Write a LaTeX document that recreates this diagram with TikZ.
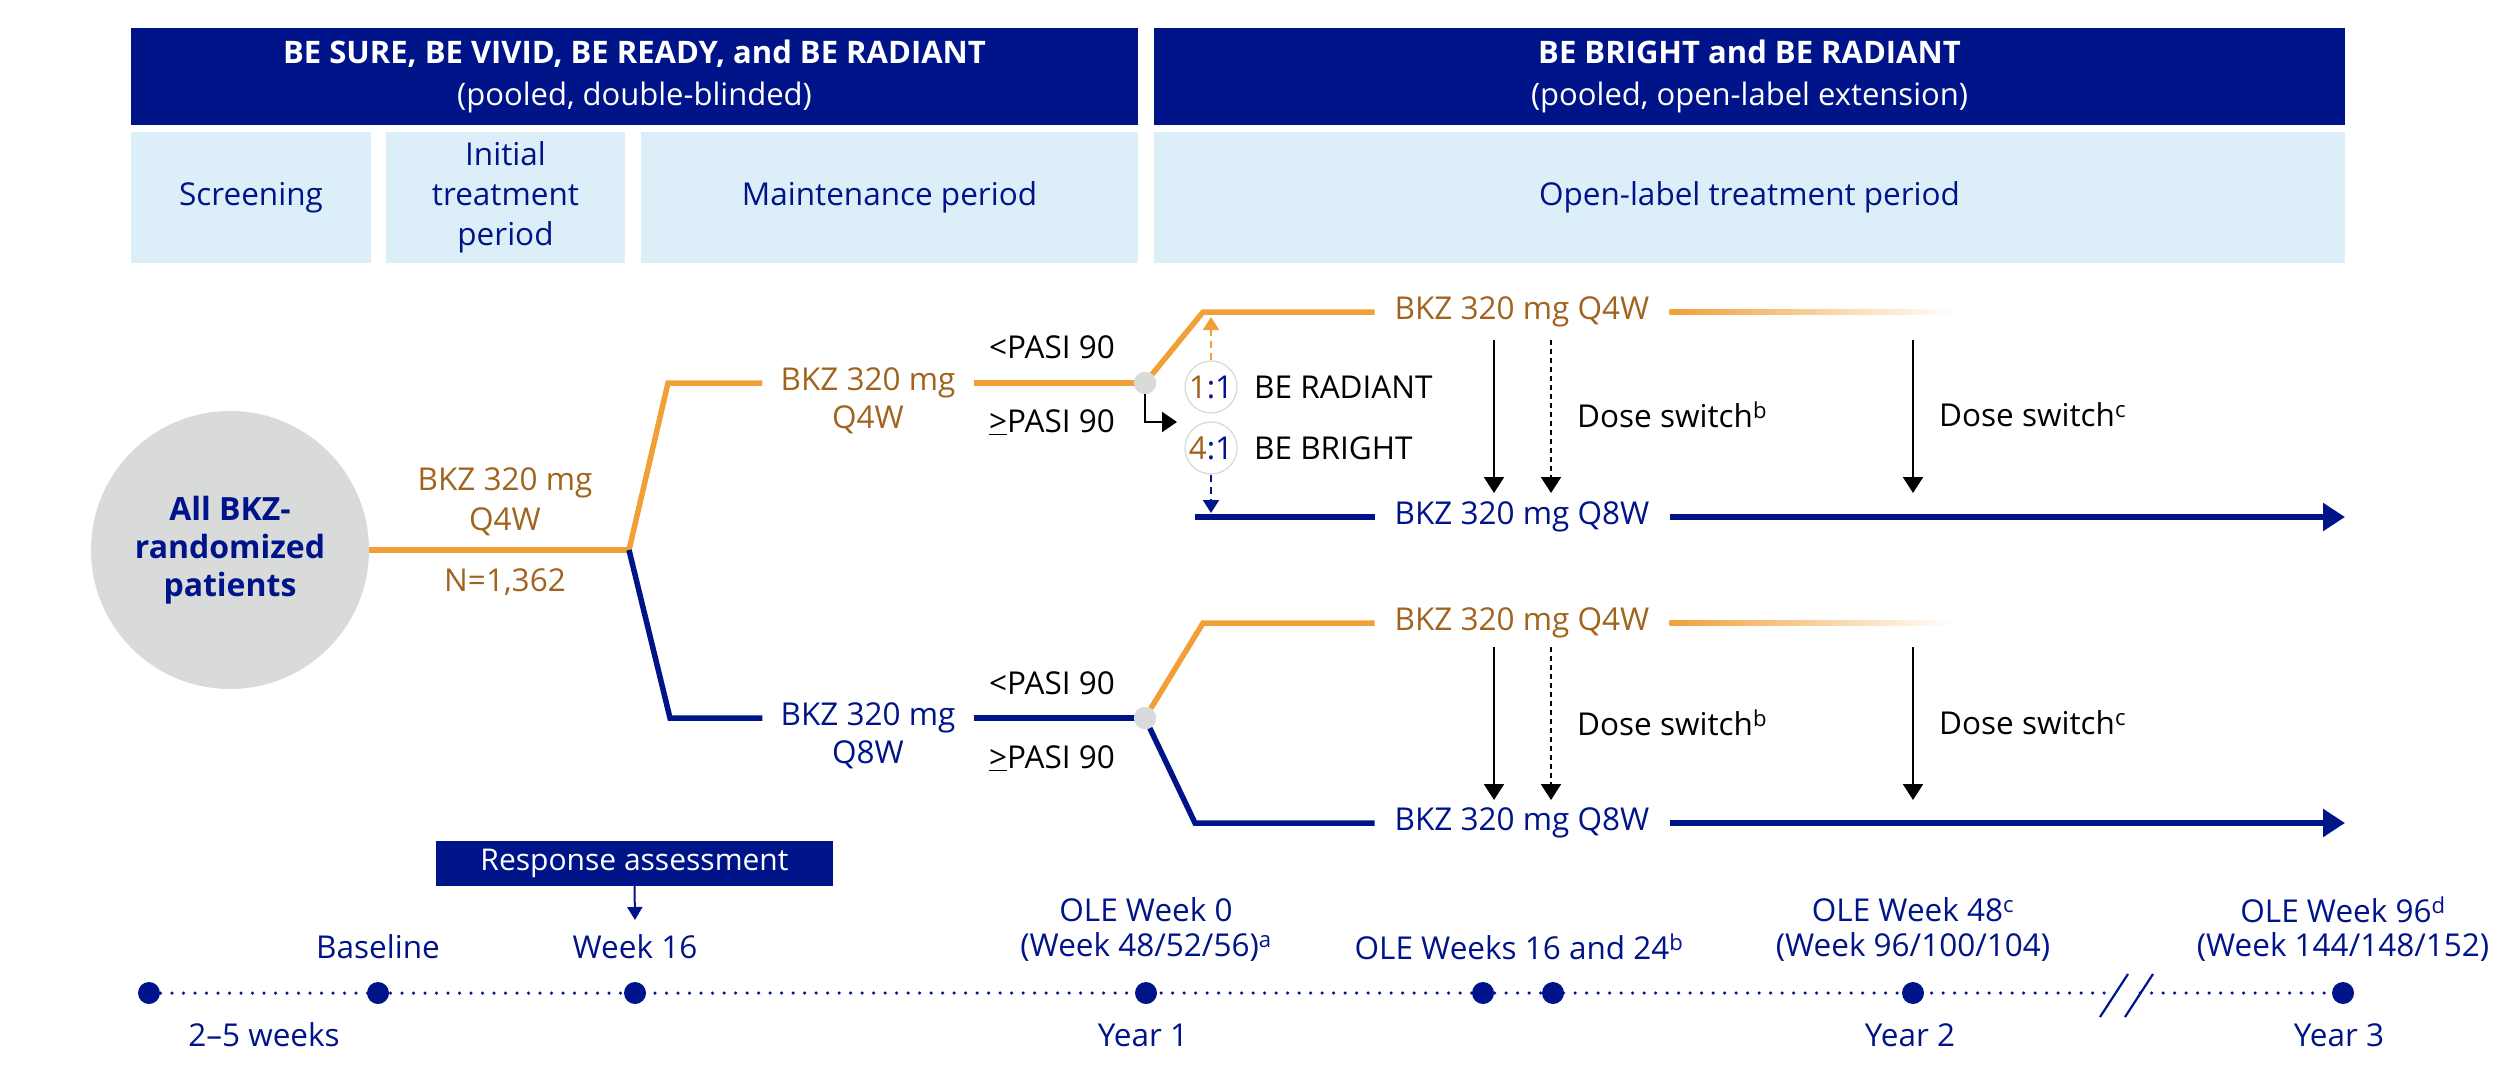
\documentclass[tikz,border=0pt]{standalone}
\usepackage{fontspec}
\setmainfont{Open Sans}
\usetikzlibrary{arrows.meta,calc}
\definecolor{navy}{RGB}{0,20,137}
\definecolor{orline}{RGB}{241,160,56}
\definecolor{ortext}{RGB}{160,100,30}
\definecolor{lblue}{RGB}{220,239,249}
\definecolor{cgray}{RGB}{217,218,218}
\newcommand\myfs{\fontsize{31.5}{40}\selectfont}
\newcommand\gepasi{\underline{>}PASI 90}
\begin{document}
\begin{tikzpicture}[x=1pt,y=-1pt,
  hdr/.style={fill=navy,text=white,inner sep=0pt,align=center,minimum height=97pt,font=\fontsize{31}{42}\selectfont},
  phase/.style={fill=lblue,text=navy,inner sep=0pt,align=center,minimum height=131pt,font=\myfs},
  oline/.style={orline,line width=5.5pt},
  nline/.style={navy,line width=5.5pt},
  bigtip/.style={-{Triangle[length=22pt,width=27pt]}},
  otxt/.style={text=ortext,font=\myfs,inner sep=0pt,inner xsep=18pt,align=center},
  ntxt/.style={text=navy,font=\myfs,inner sep=0pt,inner xsep=18pt,align=center},
  ktxt/.style={text=black,font=\myfs,inner sep=0pt,align=center},
  gdot/.style={circle,fill=cgray,inner sep=0pt,minimum size=22pt},
  tdot/.style={circle,fill=navy,inner sep=0pt,minimum size=22pt},
  ratio/.style={circle,draw=cgray,line width=1.3pt,fill=white,inner sep=0pt,minimum size=52pt,font=\myfs},
  sw/.style={black,line width=2.2pt,-{Triangle[length=16pt,width=20pt]}},
  tl/.style={navy,line width=3.5pt,line cap=round,dash pattern=on 0pt off 11.5pt},
]
\useasboundingbox (0,0) rectangle (2510,1083);

% headers
\node[hdr,minimum width=1007pt] (hL) at (634.5,76.5) {{\bfseries BE SURE, BE VIVID, BE READY, and BE RADIANT}\\(pooled, double-blinded)};
\node[hdr,minimum width=1191pt] (hR) at (1749.5,76.5) {{\bfseries BE BRIGHT and BE RADIANT}\\(pooled, open-label extension)};
\node[phase,minimum width=240pt] (pS) at (251,197.5) {Screening};
\node[phase,minimum width=239pt] (pI) at (505.5,197.5) {Initial\\treatment\\period};
\node[phase,minimum width=497pt] (pM) at (889.5,197.5) {Maintenance period};
\node[phase,minimum width=1191pt] (pO) at (1749.5,197.5) {Open-label treatment period};

% start
\node[circle,fill=cgray,minimum size=278pt,inner sep=0pt,text=navy,align=center,font=\fontsize{32}{38}\selectfont\bfseries] (all) at (230,550) {All BKZ-\\randomized\\patients};
\coordinate (b0) at (629,550);
\node[otxt] (l0a) at (505,483) {BKZ 320 mg};
\node[otxt] (l0b) at (505,522) {Q4W};
\node[otxt] (l0c) at (505,582) {N=1,362};
\draw[oline] (all.east) -- (b0);

% maintenance arms
\coordinate (c1) at (668,383);
\coordinate (c1n) at (670,718);
\node[otxt] (q4a) at (868,383) {BKZ 320 mg};
\node[otxt] (q4b) at (868,420) {Q4W};
\node[ntxt] (q8a) at (868,718) {BKZ 320 mg};
\node[ntxt] (q8b) at (868,755) {Q8W};
\node[gdot] (d1) at (1145,383) {};
\node[gdot] (d2) at (1145,718) {};
\draw[oline,line join=miter] (b0) -- (c1) -- (q4a.west);
\draw[oline] (q4a.east) -- (d1.center);
\draw[nline,line join=miter] (b0) -- (c1n) -- (q8a.west);
\draw[nline] (q8a.east) -- (d2.center);
\node[gdot] at (d1) {};
\node[gdot] at (d2) {};

\node[ktxt] (pa1) at (1052,347) {<PASI 90};
\node[ktxt] (pa2) at (1052,422) {\gepasi};
\node[ktxt] (pa3) at (1052,683) {<PASI 90};
\node[ktxt] (pa4) at (1052,758) {\gepasi};

% upper OLE group
\coordinate (c2) at (1203,312);
\coordinate (c3) at (1195,517);
\node[otxt,inner xsep=20pt] (t1) at (1522,312) {BKZ 320 mg Q4W};
\node[ntxt,inner xsep=20pt] (t2) at (1522,517) {BKZ 320 mg Q8W};
\coordinate (g1) at (1955,312);
\coordinate (e1) at (2345,517);
\draw[oline,line join=miter] (d1) -- (c2) -- (t1.west);
\draw[nline] (c3) -- (t2.west);
\shade[left color=orline,right color=white] ($(t1.east)+(0,-2.75)$) rectangle ($(g1)+(0,2.75)$);
\draw[nline,bigtip] (t2.east) -- (e1);
\node[gdot] at (d1) {};

\node[ratio] (r1) at (1211,387) {{\color{ortext}1}{\color{navy}:1}};
\node[ratio] (r2) at (1211,448) {{\color{ortext}4}{\color{navy}:1}};
\node[ktxt,anchor=west] (rl1) at (1254,387) {BE RADIANT};
\node[ktxt,anchor=west] (rl2) at (1254,448) {BE BRIGHT};
\coordinate (ra) at (1211,317);
\coordinate (rb) at (1211,513);
\draw[orline,line width=2.2pt,dash pattern=on 7pt off 5pt,-{Triangle[length=13pt,width=16pt]}] (r1.north) -- (ra);
\draw[navy,line width=2.2pt,dash pattern=on 7pt off 5pt,-{Triangle[length=13pt,width=16pt]}] (r2.south) -- (rb);
\coordinate (lk) at (1145,422);
\coordinate (lt) at (1177,422);
\draw[black,line width=2.2pt,-{Triangle[length=15pt,width=20pt]}] (d1.south) -- (lk) -- (lt);

\coordinate (s1a) at (1494,340); \coordinate (s1b) at (1494,493);
\coordinate (s2a) at (1551,340); \coordinate (s2b) at (1551,493);
\coordinate (s3a) at (1913,340); \coordinate (s3b) at (1913,493);
\draw[sw] (s1a) -- (s1b);
\draw[sw,dash pattern=on 5pt off 4pt] (s2a) -- (s2b);
\draw[sw] (s3a) -- (s3b);
\node[ktxt,anchor=west] (ds1) at (1577,415) {Dose switch\textsuperscript{b}};
\node[ktxt,anchor=west] (ds2) at (1939,415) {Dose switch\textsuperscript{c}};

% lower OLE group
\coordinate (c4) at (1203,623);
\coordinate (c5) at (1195,823);
\node[otxt,inner xsep=20pt] (t3) at (1522,623) {BKZ 320 mg Q4W};
\node[ntxt,inner xsep=20pt] (t4) at (1522,823) {BKZ 320 mg Q8W};
\coordinate (g2) at (1955,623);
\coordinate (e2) at (2345,823);
\draw[oline,line join=miter] (d2) -- (c4) -- (t3.west);
\draw[nline,line join=miter] (d2) -- (c5) -- (t4.west);
\shade[left color=orline,right color=white] ($(t3.east)+(0,-2.75)$) rectangle ($(g2)+(0,2.75)$);
\draw[nline,bigtip] (t4.east) -- (e2);
\node[gdot] at (d2) {};

\coordinate (s4a) at (1494,647); \coordinate (s4b) at (1494,800);
\coordinate (s5a) at (1551,647); \coordinate (s5b) at (1551,800);
\coordinate (s6a) at (1913,647); \coordinate (s6b) at (1913,800);
\draw[sw] (s4a) -- (s4b);
\draw[sw,dash pattern=on 5pt off 4pt] (s5a) -- (s5b);
\draw[sw] (s6a) -- (s6b);
\node[ktxt,anchor=west] (ds3) at (1577,723) {Dose switch\textsuperscript{b}};
\node[ktxt,anchor=west] (ds4) at (1939,723) {Dose switch\textsuperscript{c}};

% timeline
\coordinate (k0) at (149,993);
\coordinate (k1) at (378,993);
\coordinate (k2) at (635,993);
\coordinate (k3) at (1146,993);
\coordinate (k4) at (1483,993);
\coordinate (k5) at (1553,993);
\coordinate (k6) at (1913,993);
\coordinate (k7) at (2343,993);
\coordinate (bk1) at (2112,993);
\coordinate (bk2) at (2140,993);
\draw[tl] (k0) -- (bk1);
\draw[tl] (bk2) -- (k7);
\draw[navy,line width=2.2pt] (2100,1017) -- (2128,974);
\draw[navy,line width=2.2pt] (2125,1017) -- (2153,974);
\foreach \k in {k0,k1,k2,k3,k4,k5,k6,k7} \node[tdot] at (\k) {};

\node[ntxt,inner xsep=0pt] (lb1) at (378,947) {Baseline};
\node[ntxt,inner xsep=0pt] (lb2) at (635,947) {Week 16};
\node[ntxt,inner xsep=0pt] (lb3) at (1146,910) {OLE Week 0};
\node[ntxt,inner xsep=0pt] (lb3b) at (1146,947) {(Week 48/52/56)\textsuperscript{a}};
\node[ntxt,inner xsep=0pt] (lb4) at (1519,947) {OLE Weeks 16 and 24\textsuperscript{b}};
\node[ntxt,inner xsep=0pt] (lb5) at (1913,910) {OLE Week 48\textsuperscript{c}};
\node[ntxt,inner xsep=0pt] (lb5b) at (1913,947) {(Week 96/100/104)};
\node[ntxt,inner xsep=0pt] (lb6) at (2343,910) {OLE Week 96\textsuperscript{d}};
\node[ntxt,inner xsep=0pt] (lb6b) at (2343,947) {(Week 144/148/152)};
\node[ntxt,inner xsep=0pt] (yb0) at (264,1035) {2–5 weeks};
\node[ntxt,inner xsep=0pt] (yb1) at (1143,1035) {Year 1};
\node[ntxt,inner xsep=0pt] (yb2) at (1910,1035) {Year 2};
\node[ntxt,inner xsep=0pt] (yb3) at (2339,1035) {Year 3};

\node[fill=navy,text=white,font=\fontsize{30}{36}\selectfont,minimum width=397pt,minimum height=45pt,inner sep=0pt] (ra2) at (634.5,863.5) {Response assessment};
\coordinate (raw) at (635,920);
\draw[navy,line width=2pt,-{Triangle[length=13pt,width=15pt]}] (ra2.south) -- (raw);
\end{tikzpicture}
\end{document}
